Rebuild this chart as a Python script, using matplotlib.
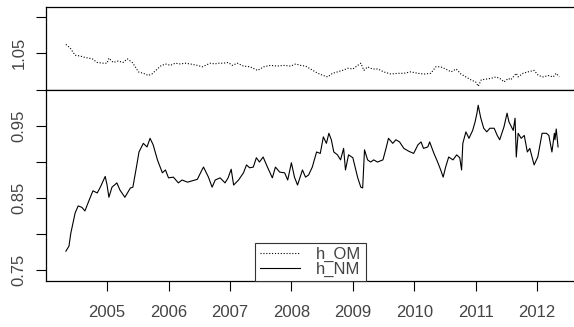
import matplotlib.pyplot as plt
from matplotlib.lines import Line2D

plt.rcParams['font.family'] = ['Liberation Sans', 'DejaVu Sans']

# h_OM (upper panel), time in decimal years
om_t = [2004.33, 2004.40, 2004.48, 2004.56, 2004.64, 2004.76, 2004.84, 2004.94, 2005.00, 2005.03,
        2005.10, 2005.18, 2005.26, 2005.33, 2005.41, 2005.46, 2005.51, 2005.59, 2005.67, 2005.73,
        2005.78, 2005.87, 2005.95, 2006.03, 2006.11, 2006.19, 2006.27, 2006.35, 2006.47, 2006.55,
        2006.60, 2006.68, 2006.76, 2006.80, 2006.89, 2006.97, 2007.04, 2007.12, 2007.22, 2007.33,
        2007.45, 2007.55, 2007.66, 2007.77, 2007.87, 2007.99, 2008.07, 2008.15, 2008.23, 2008.31,
        2008.43, 2008.52, 2008.59, 2008.67, 2008.75, 2008.83, 2008.92, 2009.00, 2009.08, 2009.13,
        2009.18, 2009.24, 2009.29, 2009.32, 2009.41, 2009.50, 2009.62, 2009.73, 2009.83, 2009.94,
        2010.06, 2010.16, 2010.27, 2010.35, 2010.43, 2010.51, 2010.60, 2010.68, 2010.76, 2010.84,
        2010.92, 2011.00, 2011.04, 2011.09, 2011.17, 2011.25, 2011.33, 2011.41, 2011.46, 2011.53,
        2011.57, 2011.66, 2011.69, 2011.77, 2011.85, 2011.95, 2012.02, 2012.10, 2012.18, 2012.26,
        2012.31, 2012.36]
om_v = [1.062, 1.057, 1.047, 1.046, 1.044, 1.042, 1.037, 1.036, 1.036, 1.043,
        1.037, 1.039, 1.037, 1.042, 1.037, 1.031, 1.024, 1.022, 1.019, 1.021,
        1.025, 1.032, 1.035, 1.033, 1.036, 1.035, 1.036, 1.035, 1.033, 1.031,
        1.033, 1.036, 1.035, 1.036, 1.036, 1.037, 1.033, 1.036, 1.032, 1.031,
        1.026, 1.031, 1.033, 1.032, 1.033, 1.032, 1.035, 1.033, 1.032, 1.028,
        1.022, 1.019, 1.017, 1.022, 1.024, 1.026, 1.029, 1.028, 1.033, 1.036,
        1.026, 1.031, 1.029, 1.028, 1.028, 1.024, 1.021, 1.022, 1.022, 1.024,
        1.022, 1.021, 1.022, 1.031, 1.031, 1.028, 1.024, 1.028, 1.021, 1.017,
        1.013, 1.010, 1.004, 1.013, 1.014, 1.015, 1.017, 1.014, 1.010, 1.015,
        1.013, 1.022, 1.017, 1.022, 1.024, 1.026, 1.019, 1.017, 1.019, 1.017,
        1.022, 1.017]

# h_NM (lower panel)
nm_t = [2004.33, 2004.38, 2004.41, 2004.48, 2004.53, 2004.59, 2004.64, 2004.69, 2004.77, 2004.84,
        2004.89, 2004.97, 2005.00, 2005.03, 2005.08, 2005.16, 2005.21, 2005.29, 2005.38, 2005.42,
        2005.47, 2005.52, 2005.59, 2005.65, 2005.70, 2005.75, 2005.82, 2005.90, 2005.95, 2006.00,
        2006.08, 2006.16, 2006.22, 2006.31, 2006.39, 2006.47, 2006.55, 2006.57, 2006.65, 2006.71,
        2006.76, 2006.84, 2006.92, 2006.97, 2007.02, 2007.06, 2007.14, 2007.22, 2007.27, 2007.32,
        2007.38, 2007.43, 2007.48, 2007.54, 2007.61, 2007.69, 2007.74, 2007.81, 2007.89, 2007.94,
        2008.00, 2008.05, 2008.10, 2008.18, 2008.23, 2008.28, 2008.34, 2008.41, 2008.47, 2008.52,
        2008.57, 2008.61, 2008.65, 2008.69, 2008.75, 2008.80, 2008.85, 2008.88, 2008.93, 2009.00,
        2009.08, 2009.13, 2009.16, 2009.19, 2009.24, 2009.29, 2009.34, 2009.40, 2009.49, 2009.54,
        2009.58, 2009.65, 2009.70, 2009.76, 2009.83, 2009.91, 2009.99, 2010.06, 2010.11, 2010.15,
        2010.22, 2010.25, 2010.32, 2010.38, 2010.43, 2010.47, 2010.51, 2010.56, 2010.63, 2010.69,
        2010.74, 2010.77, 2010.79, 2010.84, 2010.89, 2010.95, 2010.99, 2011.02, 2011.04, 2011.08,
        2011.13, 2011.18, 2011.23, 2011.30, 2011.35, 2011.39, 2011.46, 2011.51, 2011.54, 2011.61,
        2011.64, 2011.66, 2011.69, 2011.74, 2011.79, 2011.84, 2011.88, 2011.95, 2012.01, 2012.08,
        2012.15, 2012.19, 2012.24, 2012.28, 2012.29, 2012.31, 2012.34]
nm_v = [0.776, 0.783, 0.801, 0.829, 0.839, 0.837, 0.832, 0.843, 0.860, 0.857,
        0.865, 0.880, 0.868, 0.851, 0.865, 0.871, 0.861, 0.851, 0.864, 0.865,
        0.889, 0.914, 0.926, 0.921, 0.933, 0.924, 0.903, 0.885, 0.889, 0.878,
        0.879, 0.871, 0.875, 0.872, 0.874, 0.876, 0.890, 0.893, 0.879, 0.865,
        0.875, 0.878, 0.871, 0.878, 0.890, 0.868, 0.875, 0.885, 0.896, 0.892,
        0.893, 0.906, 0.900, 0.907, 0.893, 0.878, 0.893, 0.886, 0.885, 0.875,
        0.899, 0.879, 0.868, 0.889, 0.879, 0.882, 0.893, 0.914, 0.912, 0.935,
        0.926, 0.940, 0.931, 0.914, 0.910, 0.903, 0.919, 0.889, 0.910, 0.906,
        0.878, 0.865, 0.864, 0.917, 0.903, 0.900, 0.903, 0.900, 0.903, 0.919,
        0.933, 0.926, 0.931, 0.928, 0.919, 0.915, 0.912, 0.924, 0.928, 0.919,
        0.921, 0.928, 0.912, 0.900, 0.889, 0.879, 0.893, 0.907, 0.903, 0.910,
        0.906, 0.889, 0.926, 0.942, 0.933, 0.944, 0.956, 0.968, 0.979, 0.962,
        0.947, 0.942, 0.947, 0.947, 0.937, 0.931, 0.949, 0.968, 0.956, 0.944,
        0.961, 0.907, 0.940, 0.933, 0.937, 0.914, 0.919, 0.896, 0.907, 0.940,
        0.940, 0.937, 0.914, 0.940, 0.931, 0.946, 0.921]

years = [2005, 2006, 2007, 2008, 2009, 2010, 2011, 2012]
top_ticks = [1.05, 1.10]
top_labels = ['1.05', '']
bot_ticks = [0.75, 0.80, 0.85, 0.90, 0.95, 1.00]
bot_labels = ['0.75', '', '0.85', '', '0.95', '']

txt_col = '#444444'
dotted = (0, (1, 1.6))

fig = plt.figure(figsize=(5.74, 3.27), dpi=100)
ax_top = fig.add_axes([0.080, 0.725, 0.922, 0.254])
ax_bot = fig.add_axes([0.080, 0.141, 0.922, 0.584])

ax_top.plot(om_t, om_v, color='black', lw=0.8, linestyle=dotted)
ax_bot.plot(nm_t, nm_v, color='black', lw=0.8)

for ax in (ax_top, ax_bot):
    ax.set_xlim(2004.005, 2012.618)
    ax.spines['right'].set_visible(False)
    for s in ('left', 'top', 'bottom'):
        ax.spines[s].set_linewidth(0.9)
    ax.tick_params(axis='y', length=7, width=0.8, pad=7, labelsize=12,
                   labelcolor=txt_col, labelrotation=90)

ax_top.set_ylim(0.999, 1.114)
ax_top.set_yticks(top_ticks)
ax_top.set_yticklabels(top_labels, va='center')
ax_top.set_xticks([])

ax_bot.set_ylim(0.7347, 1.0003)
ax_bot.set_yticks(bot_ticks)
ax_bot.set_yticklabels(bot_labels, va='center')
ax_bot.set_xticks(years)
ax_bot.set_xticklabels([str(y) for y in years])
ax_bot.tick_params(axis='x', length=7, width=0.8, pad=10, labelsize=12, labelcolor=txt_col)

# legend sits on the x axis, like R's legend("bottom", ...)
handles = [Line2D([], [], color='black', lw=0.8, linestyle=dotted),
           Line2D([], [], color='black', lw=0.8)]
leg = ax_bot.legend(handles, ['h_OM', 'h_NM'], loc='lower left', bbox_to_anchor=(0.396, 0.0),
                    borderaxespad=0, fancybox=False, framealpha=1, edgecolor='#333333',
                    fontsize=12, handlelength=2.4, handletextpad=1.0, labelspacing=-0.05,
                    borderpad=0.25)
leg.get_frame().set_linewidth(0.8)
for t in leg.get_texts():
    t.set_color(txt_col)

fig.savefig('out.png', dpi=100)
